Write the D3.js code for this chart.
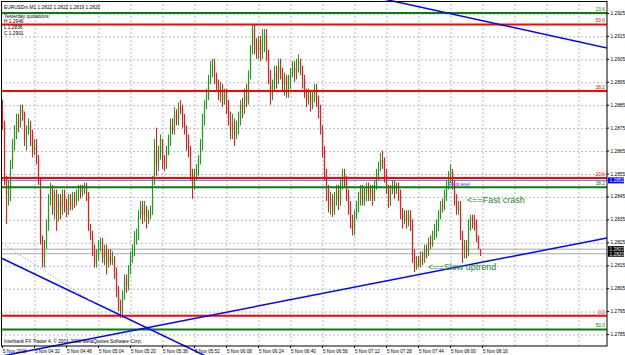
<!DOCTYPE html>
<html><head><meta charset="utf-8">
<script src="https://cdn.jsdelivr.net/npm/d3@7"></script>
<style>body{margin:0;background:#fff}svg{display:block}</style>
</head><body><svg id="c" width="625" height="355"></svg>
<script>
// ---------- DATA (EURUSDm, M1, 5 Nov 2008 from 04:16) ----------
const opens = [
1.2882,1.2876,1.2852,1.2846,1.2848,1.2859,1.2867,1.2872,1.2878,1.2876,
1.2883,1.2881,1.2870,1.2874,1.2876,1.2872,1.2865,1.2867,1.2861,1.2852,
1.2826,1.2816,1.2824,1.2833,1.2843,1.2848,1.2839,1.2846,1.2837,1.2843,
1.2839,1.2846,1.2841,1.2839,1.2843,1.2841,1.2844,1.2843,1.2846,1.2848,
1.2847,1.2849,1.2850,1.2846,1.2831,1.2828,1.2822,1.2816,1.2819,1.2824,
1.2825,1.2818,1.2822,1.2816,1.2819,1.2817,1.2818,1.2812,1.2804,1.2798,
1.2795,1.2802,1.2809,1.2806,1.2813,1.2818,1.2822,1.2826,1.2828,1.2837,
1.2841,1.2837,1.2840,1.2836,1.2837,1.2839,1.2852,1.2865,1.2859,1.2865,
1.2870,1.2861,1.2859,1.2865,1.2870,1.2876,1.2874,1.2881,1.2878,1.2884,
1.2883,1.2878,1.2875,1.2870,1.2866,1.2854,1.2850,1.2854,1.2857,1.2861,
1.2867,1.2878,1.2885,1.2889,1.2896,1.2900,1.2902,1.2897,1.2894,1.2889,
1.2892,1.2887,1.2891,1.2885,1.2879,1.2874,1.2877,1.2872,1.2875,1.2879,
1.2885,1.2883,1.2889,1.2887,1.2898,1.2909,1.2918,1.2911,1.2909,1.2913,
1.2907,1.2911,1.2915,1.2907,1.2898,1.2889,1.2894,1.2899,1.2896,1.2902,
1.2899,1.2894,1.2897,1.2891,1.2896,1.2899,1.2901,1.2898,1.2902,1.2904,
1.2900,1.2896,1.2891,1.2887,1.2889,1.2885,1.2888,1.2891,1.2887,1.2883,
1.2874,1.2865,1.2854,1.2848,1.2841,1.2844,1.2839,1.2843,1.2848,1.2843,
1.2850,1.2854,1.2852,1.2846,1.2841,1.2835,1.2831,1.2837,1.2841,1.2844,
1.2848,1.2843,1.2846,1.2849,1.2846,1.2848,1.2844,1.2850,1.2854,1.2857,
1.2861,1.2859,1.2854,1.2848,1.2843,1.2848,1.2850,1.2848,1.2849,1.2846,
1.2838,1.2835,1.2837,1.2834,1.2837,1.2833,1.2819,1.2814,1.2817,1.2815,
1.2818,1.2817,1.2822,1.2821,1.2825,1.2824,1.2828,1.2830,1.2833,1.2837,
1.2841,1.2840,1.2846,1.2850,1.2853,1.2856,1.2850,1.2843,1.2839,1.2841,
1.2828,1.2822,1.2824,1.2821,1.2833,1.2836,1.2834,1.2833,1.2827,1.2822];
const highs = [
1.2887,1.2878,1.2854,1.2852,1.2861,1.2870,1.2876,1.2881,1.2881,1.2885,
1.2885,1.2882,1.2876,1.2879,1.2878,1.2874,1.2870,1.2870,1.2863,1.2853,
1.2828,1.2826,1.2835,1.2846,1.2851,1.2850,1.2848,1.2848,1.2846,1.2846,
1.2848,1.2848,1.2844,1.2846,1.2846,1.2847,1.2847,1.2848,1.2850,1.2850,
1.2850,1.2851,1.2851,1.2847,1.2833,1.2830,1.2824,1.2822,1.2826,1.2827,
1.2827,1.2824,1.2824,1.2822,1.2822,1.2821,1.2819,1.2814,1.2806,1.2800,
1.2804,1.2811,1.2811,1.2815,1.2821,1.2824,1.2830,1.2831,1.2839,1.2843,
1.2843,1.2843,1.2841,1.2839,1.2841,1.2854,1.2870,1.2875,1.2867,1.2872,
1.2870,1.2863,1.2867,1.2872,1.2879,1.2879,1.2884,1.2883,1.2886,1.2887,
1.2885,1.2881,1.2876,1.2872,1.2867,1.2857,1.2857,1.2859,1.2863,1.2870,
1.2881,1.2887,1.2892,1.2898,1.2904,1.2905,1.2905,1.2899,1.2896,1.2895,
1.2894,1.2892,1.2892,1.2887,1.2882,1.2881,1.2879,1.2878,1.2882,1.2887,
1.2888,1.2892,1.2894,1.2900,1.2911,1.2920,1.2920,1.2914,1.2915,1.2915,
1.2918,1.2918,1.2918,1.2909,1.2900,1.2896,1.2902,1.2902,1.2905,1.2905,
1.2901,1.2899,1.2898,1.2898,1.2901,1.2904,1.2904,1.2905,1.2907,1.2905,
1.2902,1.2898,1.2892,1.2892,1.2891,1.2891,1.2894,1.2894,1.2889,1.2885,
1.2876,1.2867,1.2857,1.2850,1.2847,1.2846,1.2847,1.2850,1.2850,1.2853,
1.2857,1.2857,1.2854,1.2848,1.2843,1.2837,1.2839,1.2843,1.2847,1.2850,
1.2850,1.2849,1.2851,1.2851,1.2850,1.2850,1.2852,1.2857,1.2860,1.2864,
1.2865,1.2862,1.2857,1.2850,1.2850,1.2852,1.2852,1.2851,1.2851,1.2848,
1.2840,1.2839,1.2839,1.2839,1.2839,1.2835,1.2822,1.2819,1.2819,1.2821,
1.2821,1.2824,1.2824,1.2827,1.2828,1.2830,1.2833,1.2835,1.2839,1.2843,
1.2844,1.2848,1.2852,1.2856,1.2859,1.2857,1.2852,1.2846,1.2843,1.2843,
1.2830,1.2826,1.2826,1.2835,1.2837,1.2837,1.2837,1.2835,1.2828,1.2822];
const lows = [
1.2874,1.2850,1.2833,1.2841,1.2843,1.2857,1.2865,1.2870,1.2873,1.2875,
1.2878,1.2867,1.2865,1.2872,1.2867,1.2862,1.2863,1.2859,1.2850,1.2824,
1.2814,1.2814,1.2822,1.2830,1.2841,1.2837,1.2835,1.2830,1.2834,1.2835,
1.2837,1.2838,1.2836,1.2837,1.2839,1.2839,1.2840,1.2841,1.2843,1.2844,
1.2845,1.2846,1.2843,1.2830,1.2826,1.2819,1.2814,1.2814,1.2817,1.2821,
1.2816,1.2815,1.2811,1.2814,1.2815,1.2815,1.2809,1.2801,1.2795,1.2792,
1.2792,1.2800,1.2803,1.2804,1.2811,1.2816,1.2819,1.2824,1.2826,1.2835,
1.2833,1.2834,1.2831,1.2833,1.2835,1.2837,1.2850,1.2854,1.2856,1.2861,
1.2857,1.2856,1.2857,1.2863,1.2867,1.2872,1.2872,1.2876,1.2876,1.2881,
1.2875,1.2872,1.2865,1.2862,1.2852,1.2844,1.2848,1.2852,1.2854,1.2859,
1.2865,1.2876,1.2883,1.2887,1.2894,1.2897,1.2894,1.2891,1.2887,1.2886,
1.2884,1.2885,1.2881,1.2876,1.2870,1.2870,1.2867,1.2870,1.2872,1.2876,
1.2879,1.2881,1.2884,1.2885,1.2896,1.2907,1.2907,1.2905,1.2905,1.2904,
1.2905,1.2908,1.2904,1.2894,1.2885,1.2887,1.2891,1.2892,1.2894,1.2896,
1.2891,1.2889,1.2888,1.2888,1.2892,1.2897,1.2895,1.2896,1.2899,1.2898,
1.2892,1.2888,1.2884,1.2885,1.2882,1.2883,1.2886,1.2884,1.2879,1.2872,
1.2862,1.2852,1.2843,1.2838,1.2837,1.2836,1.2837,1.2841,1.2839,1.2841,
1.2848,1.2849,1.2843,1.2837,1.2831,1.2828,1.2828,1.2835,1.2838,1.2841,
1.2841,1.2841,1.2843,1.2843,1.2843,1.2841,1.2843,1.2848,1.2852,1.2856,
1.2857,1.2851,1.2846,1.2840,1.2841,1.2846,1.2844,1.2846,1.2843,1.2835,
1.2831,1.2833,1.2831,1.2832,1.2830,1.2816,1.2812,1.2813,1.2814,1.2814,
1.2815,1.2816,1.2818,1.2819,1.2822,1.2823,1.2826,1.2827,1.2830,1.2835,
1.2838,1.2839,1.2843,1.2848,1.2851,1.2848,1.2841,1.2837,1.2837,1.2826,
1.2816,1.2818,1.2818,1.2819,1.2830,1.2831,1.2830,1.2825,1.2822,1.2819];
const closes = [
1.2876,1.2852,1.2846,1.2848,1.2859,1.2867,1.2872,1.2878,1.2876,1.2883,
1.2881,1.2870,1.2874,1.2876,1.2872,1.2865,1.2867,1.2861,1.2852,1.2826,
1.2816,1.2824,1.2833,1.2843,1.2848,1.2839,1.2846,1.2837,1.2843,1.2839,
1.2846,1.2841,1.2839,1.2843,1.2841,1.2844,1.2843,1.2846,1.2848,1.2847,
1.2849,1.2850,1.2846,1.2831,1.2828,1.2822,1.2816,1.2819,1.2824,1.2825,
1.2818,1.2822,1.2816,1.2819,1.2817,1.2818,1.2812,1.2804,1.2798,1.2795,
1.2802,1.2809,1.2806,1.2813,1.2818,1.2822,1.2826,1.2828,1.2837,1.2841,
1.2837,1.2840,1.2836,1.2837,1.2839,1.2852,1.2865,1.2859,1.2865,1.2870,
1.2861,1.2859,1.2865,1.2870,1.2876,1.2874,1.2881,1.2878,1.2884,1.2883,
1.2878,1.2875,1.2870,1.2866,1.2854,1.2850,1.2854,1.2857,1.2861,1.2867,
1.2878,1.2885,1.2889,1.2896,1.2900,1.2902,1.2897,1.2894,1.2889,1.2892,
1.2887,1.2891,1.2885,1.2879,1.2874,1.2877,1.2872,1.2875,1.2879,1.2885,
1.2883,1.2889,1.2887,1.2898,1.2909,1.2918,1.2911,1.2909,1.2913,1.2907,
1.2911,1.2915,1.2907,1.2898,1.2889,1.2894,1.2899,1.2896,1.2902,1.2899,
1.2894,1.2897,1.2891,1.2896,1.2899,1.2901,1.2898,1.2902,1.2904,1.2900,
1.2896,1.2891,1.2887,1.2889,1.2885,1.2888,1.2891,1.2887,1.2883,1.2874,
1.2865,1.2854,1.2848,1.2841,1.2844,1.2839,1.2843,1.2848,1.2843,1.2850,
1.2854,1.2852,1.2846,1.2841,1.2835,1.2831,1.2837,1.2841,1.2844,1.2848,
1.2843,1.2846,1.2849,1.2846,1.2848,1.2844,1.2850,1.2854,1.2857,1.2861,
1.2859,1.2854,1.2848,1.2843,1.2848,1.2850,1.2848,1.2849,1.2846,1.2838,
1.2835,1.2837,1.2834,1.2837,1.2833,1.2819,1.2814,1.2817,1.2815,1.2818,
1.2817,1.2822,1.2821,1.2825,1.2824,1.2828,1.2830,1.2833,1.2837,1.2841,
1.2840,1.2846,1.2850,1.2853,1.2856,1.2850,1.2843,1.2839,1.2841,1.2828,
1.2822,1.2824,1.2821,1.2833,1.2836,1.2834,1.2833,1.2827,1.2822,1.2820];

const priceTicks = [1.2785,1.2795,1.2805,1.2815,1.2825,1.2835,1.2845,1.2855,1.2865,1.2875,1.2885,1.2895,1.2905,1.2915,1.2925];
const timeTickBars = [0,16,32,48,64,80,96,112,128,144,160,176,192,208,224,240];
const timeLabels = ["5 Nov 2008","5 Nov 04:32","5 Nov 04:48","5 Nov 05:04","5 Nov 05:20","5 Nov 05:36","5 Nov 05:52","5 Nov 06:08","5 Nov 06:24","5 Nov 06:40","5 Nov 06:56","5 Nov 07:12","5 Nov 07:28","5 Nov 07:44","5 Nov 08:00","5 Nov 08:16"];
const gridBars = [16,32,48,64,80,96,112,128,144,160,176,192,208,224,240,256,272,288,304];

const fibRedLevels = ["0.0","23.6","38.2","50.0"];
const fibRedPrices = [1.2793,1.2853,1.2891,1.2920];
const fibGreenLevels = ["50.0","38.2","23.6"];
const fibGreenPrices = [1.2787,1.2849,1.2925];
const pivotPrice = 1.2852;
const bidAskPrices = [1.2822,1.2820];

// trend lines: [bar1, price1, bar2, price2]
const blueTrendLines = [
  [195.5,1.29302,302.5,1.29097],
  [0,1.28180,60,1.27929],
  [74,1.27880,302.5,1.28269]
];
const dottedLine = [-1,1.28251,49,1.27968];

const headerText = "EURUSDm,M1  1.2822 1.2822 1.2819 1.2820";
const yesterdayText = ["Yesterday quotations:","H 1.2946","L 1.2836","C 1.2901"];
const notes = [{text:"<==Fast crash",bar:232.5,price:1.2842},{text:"<==Slow uptrend",bar:213,price:1.2813}];
const copyright = "Interbank FX Trader 4, \u00a9 2001-2008 MetaQuotes Software Corp.";

// ---------- DRAW ----------
const W=625,H=355, R=607, B=346;
const svg = d3.select("#c");
const font = "'Liberation Sans', Arial, sans-serif";
const small = "4.8px";
const y = d3.scaleLinear().domain([1.2785,1.2925]).range([334,13]);
const x = d3.scaleLinear().domain([0,239]).range([2,480]);

svg.append("rect").attr("width",W).attr("height",H).attr("fill","#fff");

// grid
const yGrid = svg.append("g").attr("transform",`translate(${R},0)`)
  .call(d3.axisLeft(y).tickValues(priceTicks).tickSize(R-2).tickFormat(""));
yGrid.select(".domain").remove();
yGrid.selectAll("line").attr("stroke","#b8b8c8").attr("stroke-dasharray","2,2")
  .attr("transform","translate(0,0.5)");
const xGrid = svg.append("g").attr("transform",`translate(0,${B})`)
  .call(d3.axisTop(x).tickValues(gridBars.filter(b=>x(b)<R-2)).tickSize(B-2).tickFormat(""));
xGrid.select(".domain").remove();
xGrid.selectAll("line").attr("stroke","#b8b8c8").attr("stroke-dasharray","2,2")
  .attr("transform","translate(0.5,0)");

// horizontal objects
const hline = (p,color,w)=>svg.append("line").attr("x1",2).attr("x2",R).attr("y1",y(p)).attr("y2",y(p)).attr("stroke",color).attr("stroke-width",w);
bidAskPrices.forEach(p=>hline(p,"#a8a8a8",1));
hline(pivotPrice,"#6a6aff",1);

// candles
const bars = d3.range(opens.length).map(i=>({i,o:opens[i],h:highs[i],l:lows[i],c:closes[i]}));
const cg = svg.append("g");
cg.selectAll("line").data(bars).join("line")
  .attr("x1",d=>x(d.i)+0.5).attr("x2",d=>x(d.i)+0.5)
  .attr("y1",d=>y(d.h)).attr("y2",d=>y(d.l))
  .attr("stroke",d=>d.c>=d.o?"#14a014":"#ff1010").attr("stroke-width",1);
cg.selectAll("rect").data(bars).join("rect")
  .attr("x",d=>x(d.i)-0.1).attr("width",1.2)
  .attr("y",d=>Math.min(y(d.o),y(d.c))).attr("height",d=>Math.max(1,Math.abs(y(d.o)-y(d.c))))
  .attr("fill",d=>d.c>=d.o?"#14a014":"#ff1010");

fibRedPrices.forEach(p=>hline(p,"#ff0000",2));
fibGreenPrices.forEach(p=>hline(p,"#0b7d0b",2));

// fib labels
const fl = svg.append("g").attr("font-family",font).attr("font-size",small).attr("text-anchor","end");
fibRedPrices.forEach((p,i)=>fl.append("text").attr("x",605).attr("y",y(p)-2).attr("fill","#ff0000").text(fibRedLevels[i]));
fibGreenPrices.forEach((p,i)=>fl.append("text").attr("x",605).attr("y",y(p)-2).attr("fill","#0b7d0b").text(fibGreenLevels[i]));

// trend lines
svg.append("clipPath").attr("id","clip").append("rect").attr("x",2).attr("y",0).attr("width",R-2).attr("height",H);
const tg = svg.append("g").attr("clip-path","url(#clip)");
blueTrendLines.forEach(t=>{
  const x1=x(t[0]),y1=y(t[1]),x2=x(t[2]),y2=y(t[3]);
  const m=(y2-y1)/(x2-x1);
  tg.append("line").attr("x1",-50).attr("y1",y1+m*(-50-x1)).attr("x2",700).attr("y2",y1+m*(700-x1))
    .attr("stroke","#0000ff").attr("stroke-width",1.5);
});
tg.append("line").attr("x1",x(dottedLine[0])).attr("y1",y(dottedLine[1])).attr("x2",x(dottedLine[2])).attr("y2",y(dottedLine[3]))
  .attr("stroke","#909090").attr("stroke-dasharray","1,2").attr("stroke-width",1);

// pivot label
svg.append("text").attr("x",449).attr("y",y(pivotPrice)+6).attr("font-family",font).attr("font-size","4.6px").attr("fill","#3030ff").text("Pivot level");

// notes
notes.forEach(n=>svg.append("text").attr("x",x(n.bar)).attr("y",y(n.price)).attr("font-family",font)
  .attr("font-size","9px").attr("fill","#1a8a1a").text(n.text));

// frame
svg.append("rect").attr("x",1.5).attr("y",1.5).attr("width",R-1.5).attr("height",B-1.5)
  .attr("fill","none").attr("stroke","#000").attr("stroke-width",1);

// price axis
const pa = svg.append("g").attr("transform",`translate(${R},0)`)
  .call(d3.axisRight(y).tickValues(priceTicks).tickFormat(d3.format(".4f")).tickSize(2).tickPadding(1.5));
pa.select(".domain").remove();
pa.selectAll("text").attr("font-family",font).attr("font-size",small).attr("fill","#000");
pa.selectAll("line").attr("stroke","#000");

// axis price boxes
const box=(p,fill)=>{
  svg.append("rect").attr("x",R+1).attr("y",y(p)-3).attr("width",W-R-2).attr("height",6).attr("fill",fill);
  svg.append("text").attr("x",R+2.5).attr("y",y(p)+1.8).attr("font-family",font).attr("font-size",small).attr("fill","#fff").text(d3.format(".4f")(p));
};
box(pivotPrice,"#0000ff");
box(bidAskPrices[0],"#000");
box(bidAskPrices[1],"#000");

// time axis
const ta = svg.append("g").attr("transform",`translate(0,${B})`)
  .call(d3.axisBottom(x).tickValues(timeTickBars).tickFormat((d,i)=>timeLabels[i]).tickSize(2).tickPadding(1.5));
ta.select(".domain").remove();
ta.selectAll("line").attr("stroke","#000");
ta.selectAll("text").attr("font-family",font).attr("font-size","4.6px").attr("fill","#000").attr("text-anchor","start").attr("dx","0.5");

// texts
const tx = svg.append("g").attr("font-family",font).attr("font-size",small).attr("fill","#000");
tx.append("text").attr("x",4).attr("y",8.5).text(headerText);
yesterdayText.forEach((t,i)=>tx.append("text").attr("x",4).attr("y",[17.5,22.5,29,34.5][i]).text(t));
tx.append("text").attr("x",4).attr("y",343).text(copyright);
</script></body></html>
